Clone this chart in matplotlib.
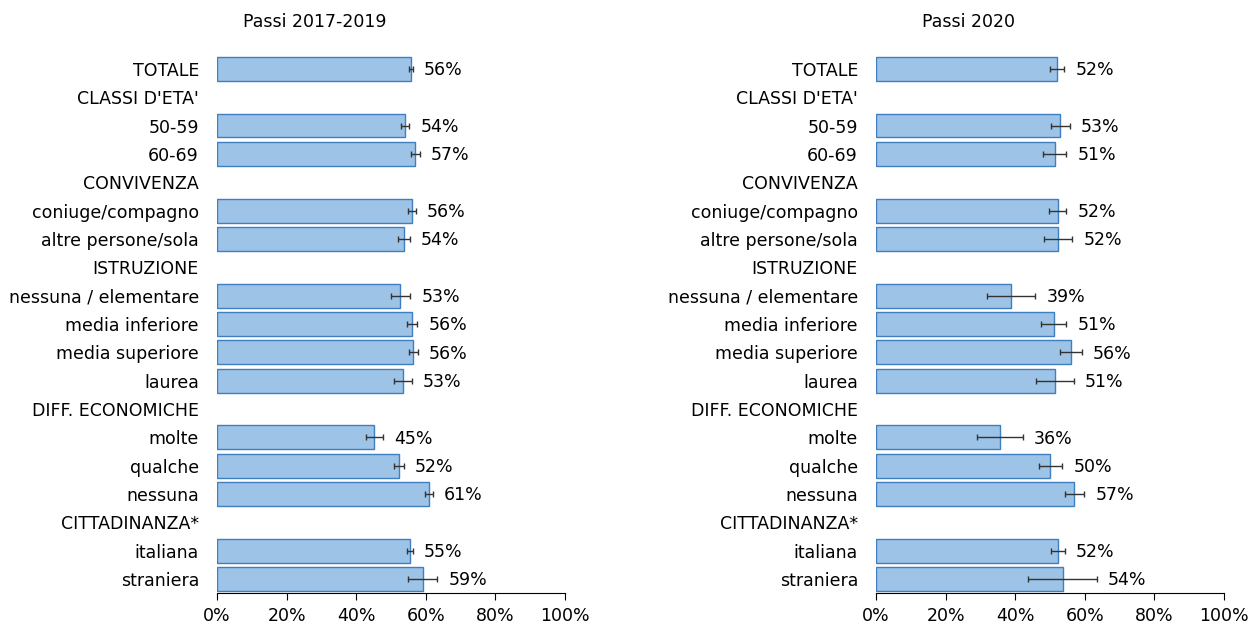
import matplotlib
matplotlib.use("Agg")
import matplotlib.pyplot as plt
import numpy as np

categories = ["TOTALE", "CLASSI D'ETA'", "50-59", "60-69", "CONVIVENZA",
              "coniuge/compagno", "altre persone/sola", "ISTRUZIONE",
              "nessuna / elementare", "media inferiore", "media superiore", "laurea",
              "DIFF. ECONOMICHE", "molte", "qualche", "nessuna",
              "CITTADINANZA*", "italiana", "straniera"]

# None = header row (no bar)
values_1719 = [55.7, None, 54.1, 57.0, None, 56.1, 53.7, None,
               52.7, 56.1, 56.4, 53.4, None, 45.2, 52.2, 60.9, None, 55.4, 59.1]
err_1719 = [0.6, None, 1.15, 1.3, None, 1.1, 1.7, None,
            2.8, 1.4, 1.25, 2.6, None, 2.5, 1.4, 1.15, None, 0.8, 4.2]
labels_1719 = ["56%", None, "54%", "57%", None, "56%", "54%", None,
               "53%", "56%", "56%", "53%", None, "45%", "52%", "61%", None, "55%", "59%"]

values_2020 = [52.1, None, 53.0, 51.4, None, 52.2, 52.4, None,
               38.9, 51.1, 56.1, 51.4, None, 35.6, 50.1, 57.0, None, 52.2, 53.6]
err_2020 = [2.0, None, 2.7, 3.3, None, 2.5, 4.0, None,
            6.9, 3.6, 3.1, 5.5, None, 6.6, 3.4, 2.8, None, 2.0, 9.9]
labels_2020 = ["52%", None, "53%", "51%", None, "52%", "52%", None,
               "39%", "51%", "56%", "51%", None, "36%", "50%", "57%", None, "52%", "54%"]

titles = ["Passi 2017-2019", "Passi 2020"]
xticks = [0, 20, 40, 60, 80, 100]
xticklabels = ["0%", "20%", "40%", "60%", "80%", "100%"]

plt.rcParams['font.family'] = ['DejaVu Sans']
W, H = 1251, 626
fig = plt.figure(figsize=(W / 100, H / 100), dpi=100)

FACE = "#9dc3e6"
EDGE = "#3f7fc1"
FS = 12.5

def draw(ax, vals, errs, labs):
    n = len(categories)
    for i in range(n):
        if vals[i] is None:
            continue
        ax.barh(i, vals[i], height=0.84, color=FACE, edgecolor=EDGE, linewidth=1.0)
        ax.errorbar(vals[i], i, xerr=errs[i], fmt='none', ecolor="#333333",
                    elinewidth=1.0, capsize=2.5, capthick=1.0)
        ax.annotate(labs[i], xy=(vals[i] + errs[i], i), xytext=(8, -1),
                    textcoords="offset points", va="center", ha="left",
                    fontsize=FS, color="black")
    ax.set_yticks(range(n))
    ax.set_yticklabels(categories, fontsize=FS)
    ax.set_ylim(n - 1 + 0.49, -0.49)
    ax.set_xlim(0, 100)
    ax.set_xticks(xticks)
    ax.set_xticklabels(xticklabels, fontsize=FS)
    for s in ["top", "right", "left"]:
        ax.spines[s].set_visible(False)
    ax.spines["bottom"].set_color("black")
    ax.tick_params(axis="y", length=0, pad=13)
    ax.tick_params(axis="x", length=5, direction="out", pad=5, color="black")

bottom = 1 - 593 / H
top = 1 - 55 / H
ax1 = fig.add_axes([217 / W, bottom, 348 / W, top - bottom])
ax2 = fig.add_axes([876 / W, bottom, 348 / W, top - bottom])
draw(ax1, values_1719, err_1719, labels_1719)
draw(ax2, values_2020, err_2020, labels_2020)

fig.text(315 / W, 1 - 22 / H, titles[0], ha="center", va="center", fontsize=FS)
fig.text(969 / W, 1 - 22 / H, titles[1], ha="center", va="center", fontsize=FS)

fig.savefig("out.png", dpi=100)
